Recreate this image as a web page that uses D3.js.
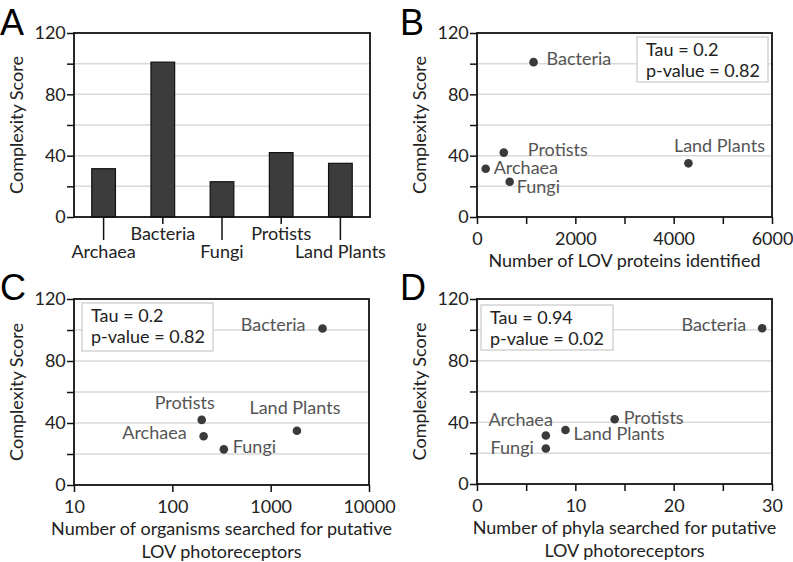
<!DOCTYPE html>
<html><head><meta charset="utf-8">
<script src="https://cdn.jsdelivr.net/npm/d3@7"></script>
<style>
body{margin:0;background:#fff;}
text{font-family:Lato,"Open Sans",sans-serif;}
</style></head>
<body><svg id="c" width="793" height="562"></svg>
<script>
// ---- data ----
const groups = ["Archaea","Bacteria","Fungi","Protists","Land Plants"];
const complexity = [31.5, 101, 23, 42, 35];
const lovProteins = [177, 1150, 665, 545, 4300];
const organismsSearched = [208, 3370, 334, 199, 1850];
const phylaSearched = [7, 29, 7, 14, 9];
const yTicksLabeled = [0, 40, 80, 120];
const yTicksAll = [0, 20, 40, 60, 80, 100, 120];
const bTicks = [0, 1000, 2000, 3000, 4000, 5000, 6000];
const cTicks = [10, 100, 1000, 10000];
const dTicks = [0, 5, 10, 15, 20, 25, 30];
const statsB = ["Tau = 0.2", "p-value = 0.82"];
const statsC = ["Tau = 0.2", "p-value = 0.82"];
const statsD = ["Tau = 0.94", "p-value = 0.02"];

// ---- layout ----
const svg = d3.select("#c");
const FS = 18;
const grid = "#d9d9d9";

function yAxisFrame(g, x0, x1, y) {
  g.selectAll("line.grid").data(yTicksAll.filter(v => v > 0 && v < 120)).join("line")
    .attr("x1", x0).attr("x2", x1).attr("y1", d => y(d)).attr("y2", d => y(d))
    .attr("stroke", grid).attr("stroke-width", 1.5);
  const ax = g.append("g").attr("transform", `translate(${x0},0)`)
    .call(d3.axisLeft(y).tickValues(yTicksAll).tickSize(7)
      .tickFormat(d => yTicksLabeled.includes(d) ? d : ""));
  ax.select(".domain").remove();
  ax.selectAll("line").attr("stroke", "#111").attr("stroke-width", 1.5);
  ax.selectAll("text").attr("font-size", FS).attr("fill", "#222").attr("dx", "0.1em")
    .style("font-family", "Lato");
}
function frame(g, x0, x1, y0, y1) {
  g.append("rect").attr("x", x0).attr("y", y0).attr("width", x1 - x0).attr("height", y1 - y0)
    .attr("fill", "none").attr("stroke", "#111").attr("stroke-width", 1.8);
}
function yLabel(g, x, yc) {
  g.append("text").attr("transform", `translate(${x},${yc}) rotate(-90)`)
    .attr("text-anchor", "middle").attr("font-size", FS).attr("fill", "#222").text("Complexity Score");
}
function letter(t, x, y) {
  svg.append("text").attr("x", x).attr("y", y).attr("font-size", 36)
    .style("font-family", "'Liberation Sans',Arial,sans-serif").attr("fill", "#000").text(t);
}
function statsBox(g, x, y, w, h, lines) {
  g.append("rect").attr("x", x).attr("y", y).attr("width", w).attr("height", h)
    .attr("fill", "#fff").attr("stroke", "#d4d4d4").attr("stroke-width", 1.5);
  lines.forEach((t, i) => g.append("text").attr("x", x + 9).attr("y", y + 19 + i * 20.5)
    .attr("font-size", FS).attr("fill", "#222").text(t));
}

// ---- Panel A ----
{
  const x0 = 74, x1 = 370, y0 = 33, y1 = 217;
  const g = svg.append("g");
  const y = d3.scaleLinear().domain([0, 120]).range([y1, y0]);
  const x = d3.scaleBand().domain(groups).range([x0, x1]).paddingInner(0.6).paddingOuter(0.3);
  yAxisFrame(g, x0, x1, y);
  g.selectAll("rect.bar").data(groups).join("rect").attr("class", "bar")
    .attr("x", d => x(d)).attr("width", x.bandwidth())
    .attr("y", (d, i) => y(complexity[i])).attr("height", (d, i) => y1 - y(complexity[i]))
    .attr("fill", "#3c3c3c").attr("stroke", "#111").attr("stroke-width", 1.2);
  frame(g, x0, x1, y0, y1);
  groups.forEach((d, i) => {
    const cx = x(d) + x.bandwidth() / 2;
    const low = i % 2 === 0;
    g.append("line").attr("x1", cx).attr("x2", cx).attr("y1", y1).attr("y2", low ? 240 : 224)
      .attr("stroke", "#111").attr("stroke-width", 1.5);
    g.append("text").attr("x", cx).attr("y", low ? 258 : 240).attr("text-anchor", "middle")
      .attr("font-size", FS).attr("fill", "#222").text(d);
  });
  yLabel(g, 23, (y0 + y1) / 2);
  letter("A", 0, 35);
}

function scatter(opts) {
  const { x0, x1, y0, y1, x, xs, ticks, labeled, fmt, offsets, stats, box, xlab } = opts;
  const g = svg.append("g");
  const y = d3.scaleLinear().domain([0, 120]).range([y1, y0]);
  yAxisFrame(g, x0, x1, y);
  const ax = g.append("g").attr("transform", `translate(0,${y1})`)
    .call(d3.axisBottom(x).tickValues(ticks).tickSize(7).tickFormat(d => labeled.includes(d) ? fmt(d) : ""));
  ax.select(".domain").remove();
  ax.selectAll("line").attr("stroke", "#111").attr("stroke-width", 1.5);
  ax.selectAll("text").attr("font-size", FS).attr("fill", "#222").attr("dy", "1.0em");
  frame(g, x0, x1, y0, y1);
  statsBox(g, box[0], box[1], box[2], box[3], stats);
  g.selectAll("circle").data(groups).join("circle")
    .attr("cx", (d, i) => x(xs[i])).attr("cy", (d, i) => y(complexity[i])).attr("r", 4.3)
    .attr("fill", "#3a3a3a");
  groups.forEach((d, i) => {
    const o = offsets[d];
    g.append("text").attr("x", x(xs[i]) + o[0]).attr("y", y(complexity[i]) + o[1])
      .attr("text-anchor", o[2]).attr("font-size", FS).attr("fill", "#555").text(d);
  });
  xlab.forEach((t, i) => g.append("text").attr("x", (x0 + x1) / 2).attr("y", y1 + 49.5 + i * 23.5)
    .attr("text-anchor", "middle").attr("font-size", FS).attr("fill", "#222").text(t));
  yLabel(g, x0 - 51, (y0 + y1) / 2);
}

// ---- Panel B ----
scatter({
  x0: 477, x1: 772, y0: 33, y1: 217,
  x: d3.scaleLinear().domain([0, 6000]).range([477, 772]),
  xs: lovProteins, ticks: bTicks, labeled: [0, 2000, 4000, 6000], fmt: d => d,
  offsets: { "Archaea": [8, 5, "start"], "Bacteria": [13, 3, "start"], "Fungi": [7, 11, "start"],
             "Protists": [24, 3, "start"], "Land Plants": [31, -11, "middle"] },
  stats: statsB, box: [637, 37, 131, 45],
  xlab: ["Number of LOV proteins identified"]
});
letter("B", 400, 35);

// ---- Panel C ----
scatter({
  x0: 74, x1: 369, y0: 299, y1: 485,
  x: d3.scaleLog().domain([10, 10000]).range([74, 369]),
  xs: organismsSearched, ticks: cTicks, labeled: cTicks, fmt: d => d,
  offsets: { "Archaea": [-17, 3, "end"], "Bacteria": [-17, 3, "end"], "Fungi": [9, 4, "start"],
             "Protists": [-17, -11, "middle"], "Land Plants": [-2, -17, "middle"] },
  stats: statsC, box: [82, 303, 131, 48],
  xlab: ["Number of organisms searched for putative", "LOV photoreceptors"]
});
letter("C", 0, 300);

// ---- Panel D ----
scatter({
  x0: 477, x1: 772, y0: 299, y1: 484,
  x: d3.scaleLinear().domain([0, 30]).range([477, 772]),
  xs: phylaSearched, ticks: dTicks, labeled: [0, 10, 20, 30], fmt: d => d,
  offsets: { "Archaea": [7, -9, "end"], "Bacteria": [-16, 3, "end"], "Fungi": [-12, 5, "end"],
             "Protists": [9, 5, "start"], "Land Plants": [8, 10, "start"] },
  stats: statsD, box: [481, 305, 132, 45],
  xlab: ["Number of phyla searched for putative", "LOV photoreceptors"]
});
letter("D", 400, 300);
</script></body></html>
